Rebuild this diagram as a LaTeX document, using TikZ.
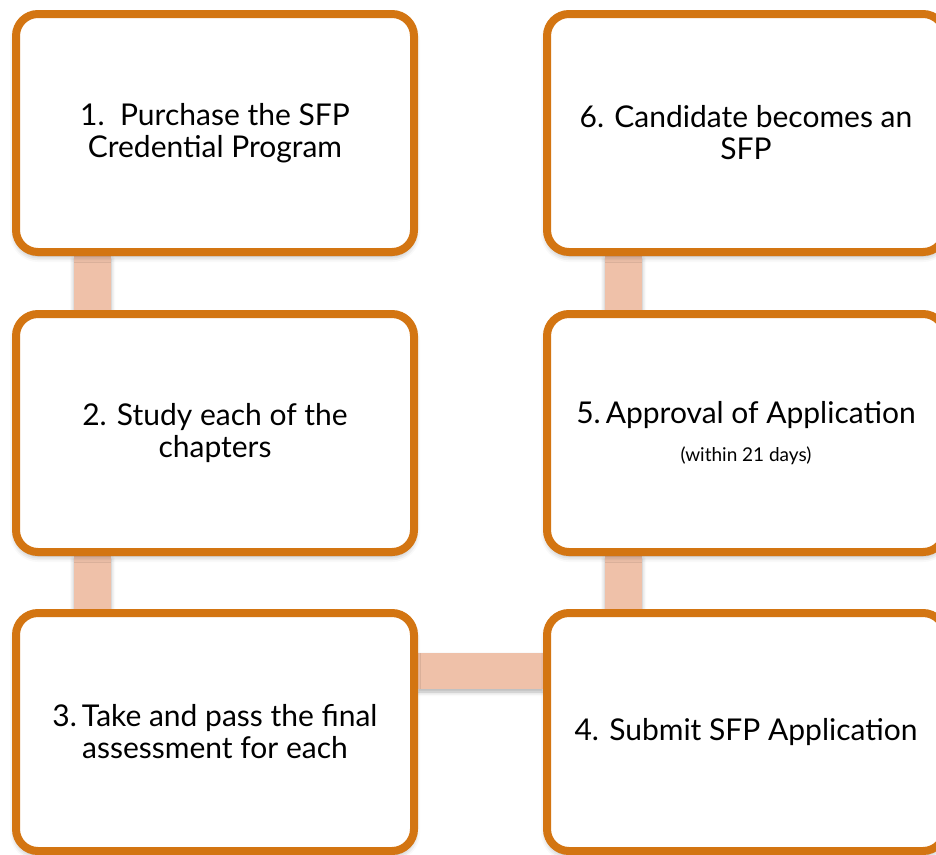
\documentclass[tikz,border=0pt]{standalone}
\usepackage{fontspec}
\setmainfont{Lato}
\usetikzlibrary{shadows.blur}
\pgfdeclarelayer{background}
\pgfsetlayers{background,main}
\definecolor{stepedge}{HTML}{D37512}
\definecolor{steplink}{HTML}{EFC1A9}
\tikzset{
  stepbox/.style={draw=stepedge, line width=8pt, rounded corners=22pt, fill=white,
    minimum width=398pt, minimum height=238pt, align=center,
    font=\fontsize{30}{32}\selectfont,
    blur shadow={shadow xshift=0pt, shadow yshift=-4pt, shadow blur radius=6pt, shadow opacity=35}},
  linkbar/.style={fill=steplink,
    blur shadow={shadow xshift=0pt, shadow yshift=-3pt, shadow blur radius=4pt, shadow opacity=30}}
}
\begin{document}
\begin{tikzpicture}[x=1pt,y=-1pt]
  \useasboundingbox (0,0) rectangle (936,854);

  \begin{scope}[every node/.style={stepbox}]
    \node (s1) at (215,133) {1.\ \ Purchase the SFP\\Credential Program};
    \node (s2) at (215,433) {2. Study each of the\\chapters};
    \node (s3) at (215,732) {3.\,Take and pass the final\\assessment for each};
    \node (s4) at (746,732) {4. Submit SFP Application};
    \node (s5) at (746,433) {5.\,Approval of Application\\[6pt]{\fontsize{19}{22}\selectfont (within 21 days)}};
    \node (s6) at (746,133) {6. Candidate becomes an\\SFP};
  \end{scope}

  % bars behind the boxes
  \begin{pgfonlayer}{background}
    \path[linkbar] ([xshift=62pt]s1.south west) rectangle ([xshift=99pt]s2.north west);
    \path[linkbar] ([xshift=62pt]s2.south west) rectangle ([xshift=99pt]s3.north west);
    \path[linkbar] ([yshift=79pt]s3.east) rectangle ([yshift=43pt]s4.west);
    \path[linkbar] ([xshift=62pt]s4.north west) rectangle ([xshift=99pt]s5.south west);
    \path[linkbar] ([xshift=62pt]s5.north west) rectangle ([xshift=99pt]s6.south west);
  \end{pgfonlayer}

\end{tikzpicture}
\end{document}
